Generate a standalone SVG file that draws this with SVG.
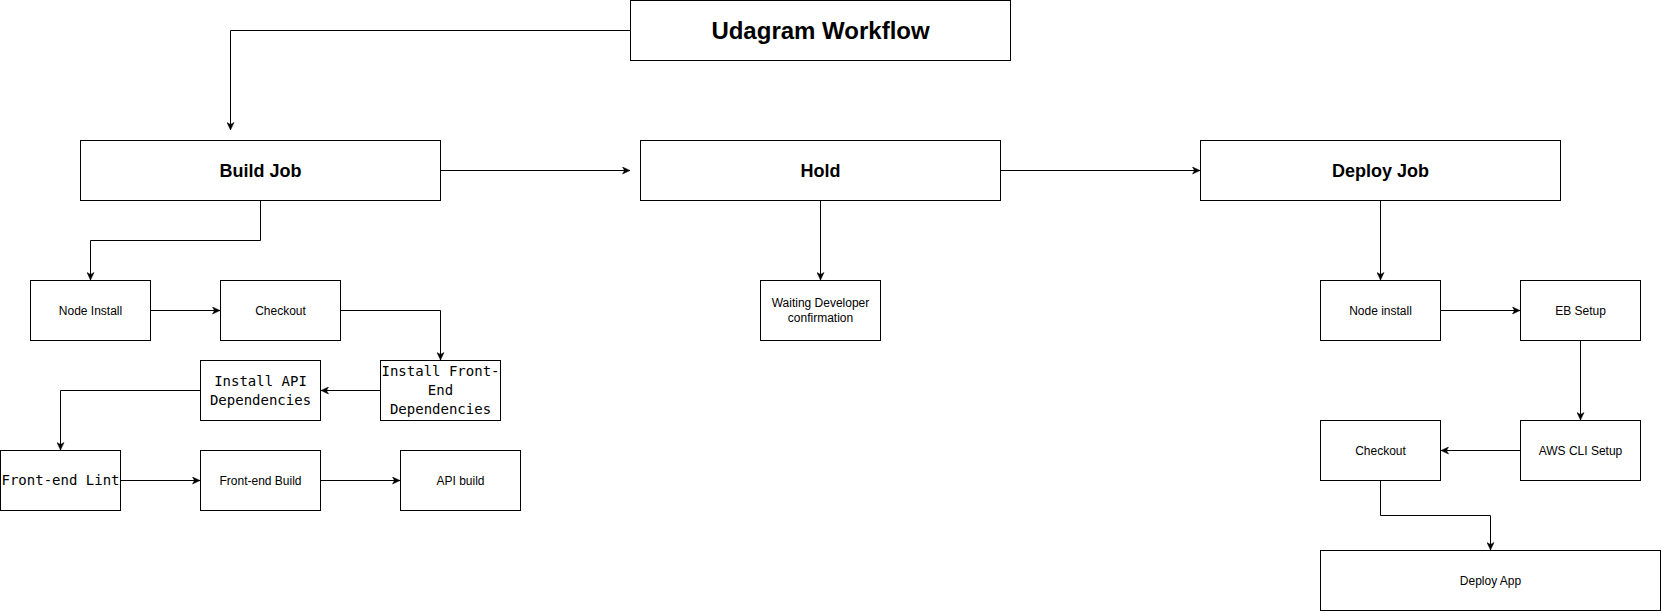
<svg xmlns="http://www.w3.org/2000/svg" width="1661" height="611" viewBox="0 0 1661 611">
<style>
.box{fill:#ffffff;stroke:#000000;stroke-width:1}
.t{font-family:"Liberation Sans",Arial,Helvetica,sans-serif;font-size:12px;fill:#000000;text-anchor:middle}
.b{font-family:"Liberation Sans",Arial,Helvetica,sans-serif;font-size:18px;font-weight:bold;fill:#000000;text-anchor:middle}
.h{font-family:"Liberation Sans",Arial,Helvetica,sans-serif;font-size:24px;font-weight:bold;fill:#000000;text-anchor:middle}
.m{font-family:"DejaVu Sans Mono","Liberation Mono",monospace;font-size:14px;fill:#000000;text-anchor:middle}
.c{fill:none;stroke:#000000;stroke-width:1}
</style>
<defs>
<marker id="arr" viewBox="0 0 8 8" refX="8" refY="4" markerWidth="8" markerHeight="8" markerUnits="userSpaceOnUse" orient="auto">
<path d="M0.5,0.5 L8,4 L0.5,7.5 L2.5,4 Z" fill="#000000" stroke="#000000" stroke-width="0.5"/>
</marker>
</defs>
<rect width="1661" height="611" fill="#ffffff"/>
<g id="connectors">
<path class="c" marker-end="url(#arr)" d="M630.5,30.5 H230.5 V130"/>
<path class="c" marker-end="url(#arr)" d="M440.5,170.5 H630"/>
<path class="c" marker-end="url(#arr)" d="M1000.5,170.5 H1200"/>
<path class="c" marker-end="url(#arr)" d="M820.5,200.5 V280"/>
<path class="c" marker-end="url(#arr)" d="M260.5,200.5 V240.5 H90.5 V280"/>
<path class="c" marker-end="url(#arr)" d="M150.5,310.5 H220"/>
<path class="c" marker-end="url(#arr)" d="M340.5,310.5 H440.5 V360"/>
<path class="c" marker-end="url(#arr)" d="M380.5,390.5 H321"/>
<path class="c" marker-end="url(#arr)" d="M200.5,390.5 H60.5 V450"/>
<path class="c" marker-end="url(#arr)" d="M120.5,480.5 H200"/>
<path class="c" marker-end="url(#arr)" d="M320.5,480.5 H400"/>
<path class="c" marker-end="url(#arr)" d="M1380.5,200.5 V280"/>
<path class="c" marker-end="url(#arr)" d="M1440.5,310.5 H1520"/>
<path class="c" marker-end="url(#arr)" d="M1580.5,340.5 V420"/>
<path class="c" marker-end="url(#arr)" d="M1520.5,450.5 H1441"/>
<path class="c" marker-end="url(#arr)" d="M1380.5,480.5 V515.5 H1490.5 V550"/>
</g>
<g id="title"><rect class="box" x="630.5" y="0.5" width="380" height="60"/><text class="h" x="820.5" y="38.5">Udagram Workflow</text></g>
<g id="build-job"><rect class="box" x="80.5" y="140.5" width="360" height="60"/><text class="b" x="260.5" y="176.5">Build Job</text></g>
<g id="hold"><rect class="box" x="640.5" y="140.5" width="360" height="60"/><text class="b" x="820.5" y="176.5">Hold</text></g>
<g id="deploy-job"><rect class="box" x="1200.5" y="140.5" width="360" height="60"/><text class="b" x="1380.5" y="176.5">Deploy Job</text></g>
<g id="node-install"><rect class="box" x="30.5" y="280.5" width="120" height="60"/><text class="t" x="90.5" y="314.5">Node Install</text></g>
<g id="checkout-build"><rect class="box" x="220.5" y="280.5" width="120" height="60"/><text class="t" x="280.5" y="314.5">Checkout</text></g>
<g id="install-fe"><rect class="box" x="380.5" y="360.5" width="120" height="60"/><text class="m" x="440.5" y="376">Install Front-</text><text class="m" x="440.5" y="395">End</text><text class="m" x="440.5" y="414">Dependencies</text></g>
<g id="install-api"><rect class="box" x="200.5" y="360.5" width="120" height="60"/><text class="m" x="260.5" y="385.5">Install API</text><text class="m" x="260.5" y="404.5">Dependencies</text></g>
<g id="fe-lint"><rect class="box" x="0.5" y="450.5" width="120" height="60"/><text class="m" x="60.5" y="485">Front-end Lint</text></g>
<g id="fe-build"><rect class="box" x="200.5" y="450.5" width="120" height="60"/><text class="t" x="260.5" y="484.5">Front-end Build</text></g>
<g id="api-build"><rect class="box" x="400.5" y="450.5" width="120" height="60"/><text class="t" x="460.5" y="484.5">API build</text></g>
<g id="waiting"><rect class="box" x="760.5" y="280.5" width="120" height="60"/><text class="t" x="820.5" y="307.3">Waiting Developer</text><text class="t" x="820.5" y="321.5">confirmation</text></g>
<g id="node-install-deploy"><rect class="box" x="1320.5" y="280.5" width="120" height="60"/><text class="t" x="1380.5" y="314.5">Node install</text></g>
<g id="eb-setup"><rect class="box" x="1520.5" y="280.5" width="120" height="60"/><text class="t" x="1580.5" y="314.5">EB Setup</text></g>
<g id="checkout-deploy"><rect class="box" x="1320.5" y="420.5" width="120" height="60"/><text class="t" x="1380.5" y="454.5">Checkout</text></g>
<g id="aws-cli"><rect class="box" x="1520.5" y="420.5" width="120" height="60"/><text class="t" x="1580.5" y="454.5">AWS CLI Setup</text></g>
<g id="deploy-app"><rect class="box" x="1320.5" y="550.5" width="340" height="60"/><text class="t" x="1490.5" y="584.5">Deploy App</text></g>
</svg>
